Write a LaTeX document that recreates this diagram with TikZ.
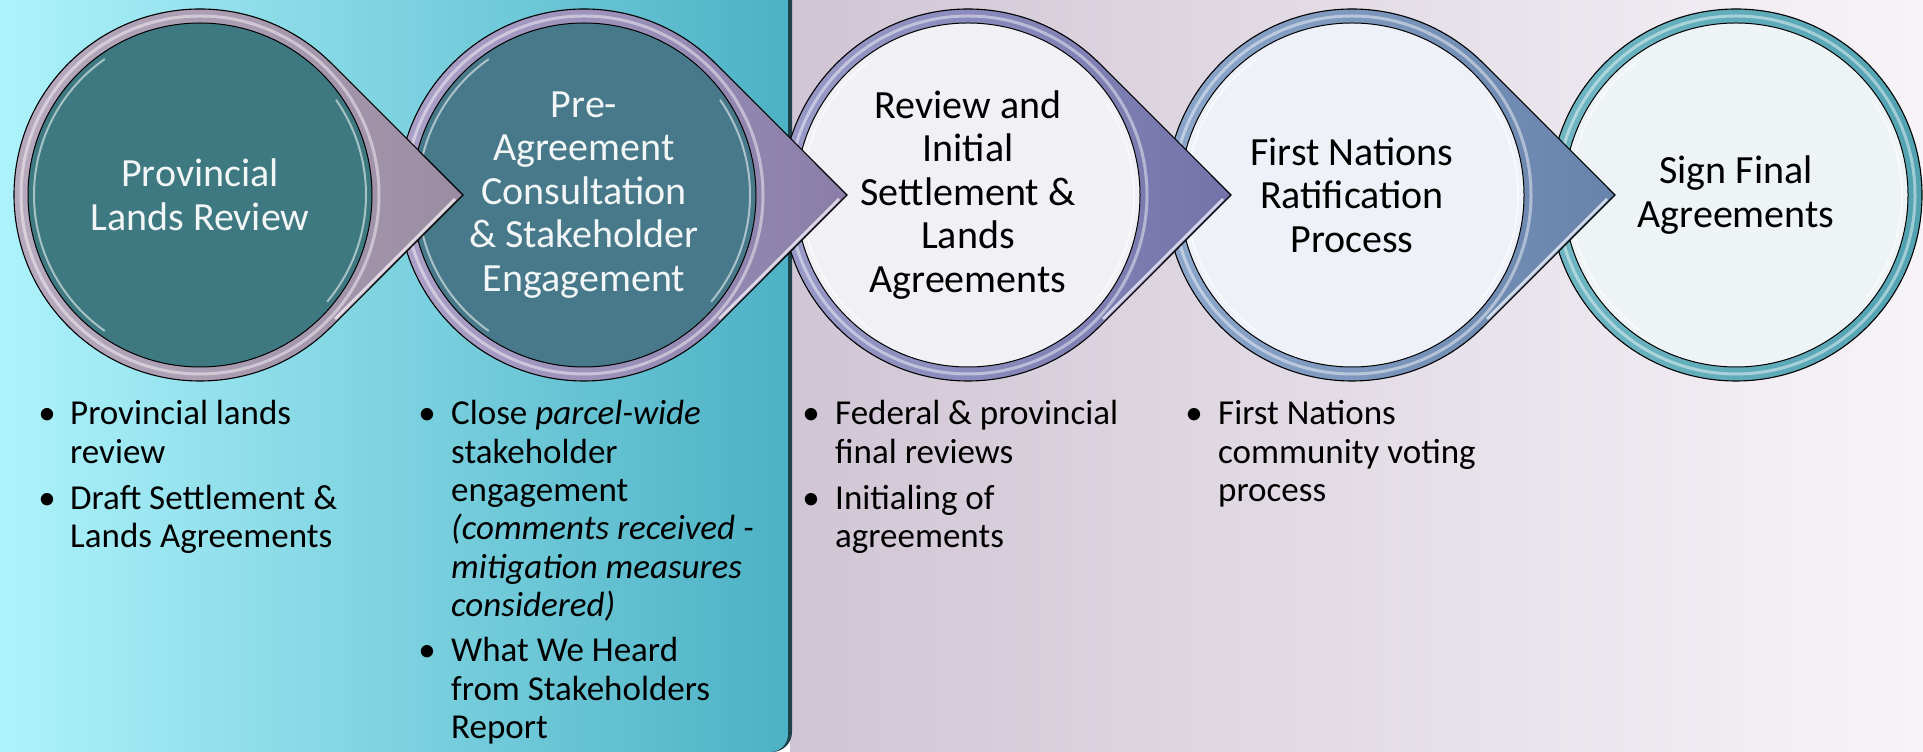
\documentclass[tikz,border=0pt]{standalone}
\usepackage{fontspec}
\setmainfont{Carlito}
\usetikzlibrary{calc}
\definecolor{bgL}{HTML}{D0C5D4}
\definecolor{bgR}{HTML}{F7F4F8}
\definecolor{panelL}{HTML}{B1F5FD}
\definecolor{panelR}{HTML}{4DB2C5}
\definecolor{panelEdge}{HTML}{1F4148}
\definecolor{ringA}{HTML}{B9ABBF}\definecolor{tipA}{HTML}{9A8CA2}\definecolor{inA}{HTML}{3E7880}
\definecolor{ringB}{HTML}{ACA2C8}\definecolor{tipB}{HTML}{8A7EA9}\definecolor{inB}{HTML}{47798A}
\definecolor{ringC}{HTML}{9C9CCA}\definecolor{tipC}{HTML}{7373AA}\definecolor{inC}{HTML}{F1F1F5}
\definecolor{ringD}{HTML}{8EA8CC}\definecolor{tipD}{HTML}{6783AB}\definecolor{inD}{HTML}{EEF2F8}
\definecolor{ringE}{HTML}{6FB6C2}\definecolor{tipE}{HTML}{52A2B2}\definecolor{inE}{HTML}{EEF3F6}
\definecolor{titleW}{HTML}{F2F6F6}
\newcommand\tdrop[3]{% #1 x, #2 light, #3 dark
  \shade[left color=#2, right color=#3]
    (#1,557) ++(45:186) arc[start angle=45,end angle=315,radius=186] -- (#1+263,557) -- cycle;
  \draw[black, line width=1.1pt]
    (#1,557) ++(45:186) arc[start angle=45,end angle=315,radius=186] -- (#1+263,557) -- cycle;
  \draw[white, opacity=0.45, line width=3pt] (#1,557) circle (179);
  \draw[white, opacity=0.7, line width=2.5pt] (#1+255,553) -- (#1+135,433);
}
\newcommand\ring[3]{%
  \shade[left color=#2, right color=#3] (#1,557) circle (186);
  \draw[black, line width=1.1pt] (#1,557) circle (186);
  \draw[white, opacity=0.45, line width=3pt] (#1,557) circle (179);
}
\newcommand\glass[1]{%
  \draw[white, opacity=0.55, line width=2pt] (#1,557) ++(125:166) arc[start angle=125,end angle=235,radius=166];
  \draw[white, opacity=0.55, line width=2pt] (#1,557) ++(-40:166) arc[start angle=-40,end angle=35,radius=166];
}
\tikzset{
  inner/.style={circle, minimum size=344pt, inner sep=0pt, draw=black, line width=1pt,
    align=center, font=\fontsize{40}{43.5}\selectfont},
  bul/.style={inner sep=0pt, anchor=base west, font=\fontsize{35}{38.3}\selectfont, text=black}
}
\newcommand\bt{\makebox[0pt]{\textbullet}}
\begin{document}
\begin{tikzpicture}[x=1pt,y=1pt]
\useasboundingbox (0,0) rectangle (1923,752);
\clip (0,0) rectangle (1923,752);
% backgrounds
\shade[left color=bgL, right color=bgR] (790,0) rectangle (1923,752);
\fill[panelEdge, rounded corners=20pt] (-30,0) rectangle (792,790);
\shade[left color=panelL, right color=panelR, rounded corners=18pt] (-30,0) rectangle (788,790);
% circle 5
\ring{1736}{ringE}{tipE}
\node[inner, fill=inE, text=black] (c5) at (1736,557) {Sign Final\\Agreements};
\glass{1736}
% circle 4
\tdrop{1352}{ringD}{tipD}
\node[inner, fill=inD, text=black] (c4) at (1352,557) {First Nations\\Ratification\\Process};
\glass{1352}
% circle 3
\tdrop{968}{ringC}{tipC}
\node[inner, fill=inC, text=black] (c3) at (968,557) {Review and\\Initial\\Settlement \&\\Lands\\Agreements};
\glass{968}
% circle 2
\tdrop{584}{ringB}{tipB}
\node[inner, fill=inB, text=titleW] (c2) at (584,557) {Pre-\\Agreement\\Consultation\\\& Stakeholder\\Engagement};
\glass{584}
% circle 1
\tdrop{200}{ringA}{tipA}
\node[inner, fill=inA, text=titleW] (c1) at (200,557) {Provincial\\Lands Review};
\glass{200}
% bullet lists
\node[bul] (l1) at (47,327) {\begin{tabular}[t]{@{}p{23pt}@{}l@{}}
\bt & Provincial lands\\ & review\\[8pt]
\bt & Draft Settlement \&\\ & Lands Agreements\end{tabular}};
\node[bul] (l2) at (427,327) {\begin{tabular}[t]{@{}p{24pt}@{}l@{}}
\bt & Close \textit{parcel-wide}\\ & stakeholder\\ & engagement\\
 & \textit{(comments received -}\\ & \textit{mitigation measures}\\ & \textit{considered)}\\[7pt]
\bt & What We Heard\\ & from Stakeholders\\ & Report\end{tabular}};
\node[bul] (l3) at (811,327) {\begin{tabular}[t]{@{}p{24pt}@{}l@{}}
\bt & Federal \& provincial\\ & final reviews\\[8pt]
\bt & Initialing of\\ & agreements\end{tabular}};
\node[bul] (l4) at (1194,327) {\begin{tabular}[t]{@{}p{24pt}@{}l@{}}
\bt & First Nations\\ & community voting\\ & process\end{tabular}};
\end{tikzpicture}
\end{document}
